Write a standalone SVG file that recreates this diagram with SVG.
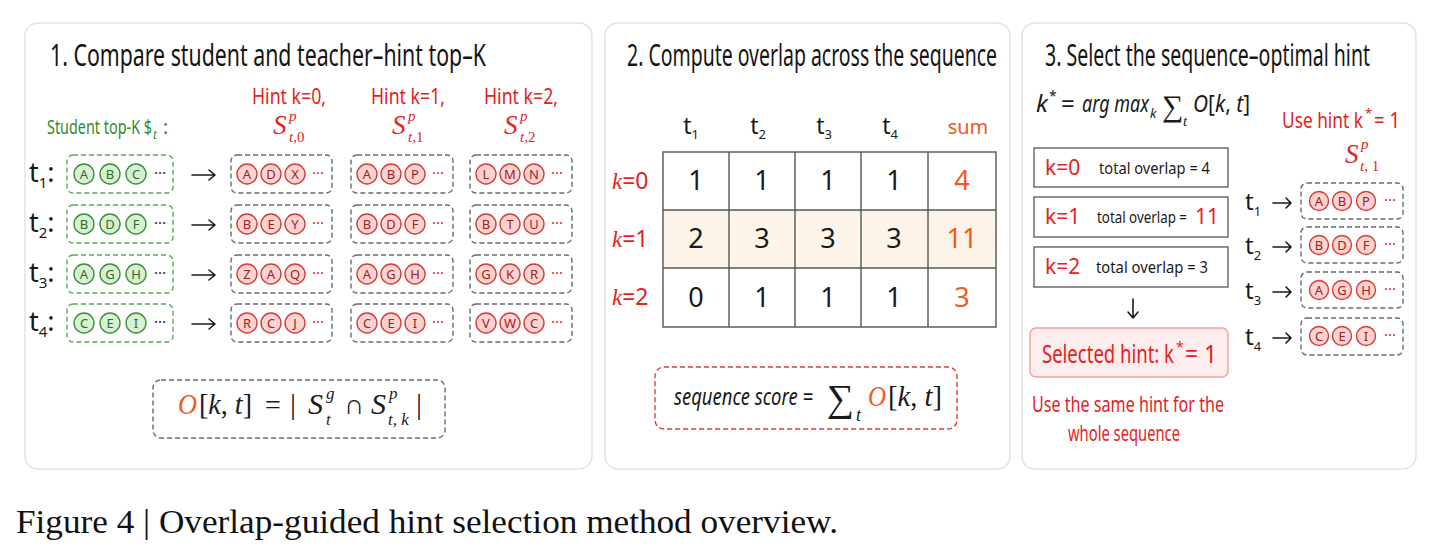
<svg xmlns="http://www.w3.org/2000/svg" width="1440" height="554" viewBox="0 0 1440 554">
  <defs>
    <style>
      .panel { fill:#ffffff; stroke:#e3e3e3; stroke-width:1.5; }
      .ttl { font-family:"Noto Sans","DejaVu Sans",sans-serif; font-size:30px; fill:#151515; }
      .hand { font-family:"Noto Sans","DejaVu Sans",sans-serif; }
      .red { fill:#e4221e; }
      .org { fill:#f05a22; }
      .grn { fill:#2f8a2f; }
      .blk { fill:#1a1a1a; }
      .math { font-family:"Liberation Serif","DejaVu Serif",serif; font-style:italic; }
      .up { font-family:"Liberation Serif","DejaVu Serif",serif; font-style:normal; }
      .gbox { fill:none; stroke:#5bab5b; stroke-width:1.4; stroke-dasharray:5 3; }
      .rbox { fill:none; stroke:#6a6a6a; stroke-width:1.4; stroke-dasharray:5 3; }
      .gc circle { fill:#d9f0d3; stroke:#3a8f3a; stroke-width:1.4; }
      .gc text { font-family:"Noto Sans","DejaVu Sans",sans-serif; font-size:13px; fill:#2d6e2d; text-anchor:middle; }
      .rc circle { fill:#fbd3d1; stroke:#d63b37; stroke-width:1.4; }
      .rc text { font-family:"Noto Sans","DejaVu Sans",sans-serif; font-size:13px; fill:#a32020; text-anchor:middle; }
      .dots { font-family:"Noto Sans","DejaVu Sans",sans-serif; font-size:15px; text-anchor:middle; }
      .grid { fill:none; stroke:#555; stroke-width:1.4; }
      .num { font-family:"Noto Sans","DejaVu Sans",sans-serif; font-size:27px; text-anchor:middle; }
      .sbox { fill:#ffffff; stroke:#555; stroke-width:1.3; }
      .arrow { fill:none; stroke:#1a1a1a; stroke-width:1.6; stroke-linecap:round; stroke-linejoin:round; }
    </style>
  </defs>

  <rect width="1440" height="554" fill="#ffffff"/>

  <!-- three panel frames -->
  <rect class="panel" x="25" y="23" width="567" height="446" rx="13"/>
  <rect class="panel" x="605" y="23" width="405" height="446" rx="13"/>
  <rect class="panel" x="1022" y="23" width="394" height="446" rx="13"/>

  <!-- ===== Panel 1 ===== -->
  <g id="panel1-title">
    <text class="ttl" x="50" y="66" textLength="436" lengthAdjust="spacingAndGlyphs">1. Compare student and teacher–hint top–K</text>
  </g>

  <g id="hint-headers">
    <text class="hand red" x="289" y="104" font-size="21" text-anchor="middle" textLength="74" lengthAdjust="spacingAndGlyphs">Hint k=0,</text>
    <text class="hand red" x="408" y="104" font-size="21" text-anchor="middle" textLength="74" lengthAdjust="spacingAndGlyphs">Hint k=1,</text>
    <text class="hand red" x="521" y="104" font-size="21" text-anchor="middle" textLength="74" lengthAdjust="spacingAndGlyphs">Hint k=2,</text>
    <!-- S^p_{t,k} labels -->
    <text class="math red" x="273" y="134" font-size="27">S</text>
    <text class="math red" x="289" y="121" font-size="15">p</text>
    <text class="math red" x="289" y="142" font-size="15">t<tspan class="up">,0</tspan></text>
    <text class="math red" x="392" y="134" font-size="27">S</text>
    <text class="math red" x="408" y="121" font-size="15">p</text>
    <text class="math red" x="408" y="142" font-size="15">t<tspan class="up">,1</tspan></text>
    <text class="math red" x="504" y="134" font-size="27">S</text>
    <text class="math red" x="520" y="121" font-size="15">p</text>
    <text class="math red" x="520" y="142" font-size="15">t<tspan class="up">,2</tspan></text>
  </g>

  <g id="student-header" class="hand grn">
    <text x="47" y="134" font-size="19" textLength="105" lengthAdjust="spacingAndGlyphs">Student top-K $</text>
    <text class="math" x="153" y="139" font-size="14">t</text>
    <text x="163" y="134" font-size="19">:</text>
  </g>

  <!-- row labels -->
  <g id="row-labels-p1" class="hand blk">
    <text x="29" y="182" font-size="27">t<tspan font-size="15" dy="6">1</tspan><tspan dy="-6">:</tspan></text>
    <text x="29" y="232" font-size="27">t<tspan font-size="15" dy="6">2</tspan><tspan dy="-6">:</tspan></text>
    <text x="29" y="282" font-size="27">t<tspan font-size="15" dy="6">3</tspan><tspan dy="-6">:</tspan></text>
    <text x="29" y="331" font-size="27">t<tspan font-size="15" dy="6">4</tspan><tspan dy="-6">:</tspan></text>
  </g>

  <!-- student top-K sets -->
  <g id="student-t1">
    <rect class="gbox" x="67" y="155" width="106" height="38" rx="6"/>
    <g class="gc"><circle cx="84" cy="174" r="10"/><text x="84" y="178.5">A</text><circle cx="110" cy="174" r="10"/><text x="110" y="178.5">B</text><circle cx="136" cy="174" r="10"/><text x="136" y="178.5">C</text></g>
    <text class="dots blk" x="160" y="178">···</text>
  </g>
  <g id="student-t2">
    <rect class="gbox" x="67" y="205" width="106" height="38" rx="6"/>
    <g class="gc"><circle cx="84" cy="224" r="10"/><text x="84" y="228.5">B</text><circle cx="110" cy="224" r="10"/><text x="110" y="228.5">D</text><circle cx="136" cy="224" r="10"/><text x="136" y="228.5">F</text></g>
    <text class="dots blk" x="160" y="228">···</text>
  </g>
  <g id="student-t3">
    <rect class="gbox" x="67" y="255" width="106" height="38" rx="6"/>
    <g class="gc"><circle cx="84" cy="274" r="10"/><text x="84" y="278.5">A</text><circle cx="110" cy="274" r="10"/><text x="110" y="278.5">G</text><circle cx="136" cy="274" r="10"/><text x="136" y="278.5">H</text></g>
    <text class="dots blk" x="160" y="278">···</text>
  </g>
  <g id="student-t4">
    <rect class="gbox" x="67" y="304" width="106" height="38" rx="6"/>
    <g class="gc"><circle cx="84" cy="323" r="10"/><text x="84" y="327.5">C</text><circle cx="110" cy="323" r="10"/><text x="110" y="327.5">E</text><circle cx="136" cy="323" r="10"/><text x="136" y="327.5">I</text></g>
    <text class="dots blk" x="160" y="327">···</text>
  </g>

  <!-- hint k=0 sets -->
  <g id="hint0-t1">
    <rect class="rbox" x="231" y="155" width="101" height="38" rx="6"/>
    <g class="rc"><circle cx="247" cy="174" r="10"/><text x="247" y="178.5">A</text><circle cx="271" cy="174" r="10"/><text x="271" y="178.5">D</text><circle cx="295" cy="174" r="10"/><text x="295" y="178.5">X</text></g>
    <text class="dots red" x="318" y="178">···</text>
  </g>
  <g id="hint0-t2">
    <rect class="rbox" x="231" y="205" width="101" height="38" rx="6"/>
    <g class="rc"><circle cx="247" cy="224" r="10"/><text x="247" y="228.5">B</text><circle cx="271" cy="224" r="10"/><text x="271" y="228.5">E</text><circle cx="295" cy="224" r="10"/><text x="295" y="228.5">Y</text></g>
    <text class="dots red" x="318" y="228">···</text>
  </g>
  <g id="hint0-t3">
    <rect class="rbox" x="231" y="255" width="101" height="38" rx="6"/>
    <g class="rc"><circle cx="247" cy="274" r="10"/><text x="247" y="278.5">Z</text><circle cx="271" cy="274" r="10"/><text x="271" y="278.5">A</text><circle cx="295" cy="274" r="10"/><text x="295" y="278.5">Q</text></g>
    <text class="dots red" x="318" y="278">···</text>
  </g>
  <g id="hint0-t4">
    <rect class="rbox" x="231" y="304" width="101" height="38" rx="6"/>
    <g class="rc"><circle cx="247" cy="323" r="10"/><text x="247" y="327.5">R</text><circle cx="271" cy="323" r="10"/><text x="271" y="327.5">C</text><circle cx="295" cy="323" r="10"/><text x="295" y="327.5">J</text></g>
    <text class="dots red" x="318" y="327">···</text>
  </g>

  <!-- hint k=1 sets -->
  <g id="hint1-t1">
    <rect class="rbox" x="351" y="155" width="102" height="38" rx="6"/>
    <g class="rc"><circle cx="367" cy="174" r="10"/><text x="367" y="178.5">A</text><circle cx="391" cy="174" r="10"/><text x="391" y="178.5">B</text><circle cx="415" cy="174" r="10"/><text x="415" y="178.5">P</text></g>
    <text class="dots red" x="438" y="178">···</text>
  </g>
  <g id="hint1-t2">
    <rect class="rbox" x="351" y="205" width="102" height="38" rx="6"/>
    <g class="rc"><circle cx="367" cy="224" r="10"/><text x="367" y="228.5">B</text><circle cx="391" cy="224" r="10"/><text x="391" y="228.5">D</text><circle cx="415" cy="224" r="10"/><text x="415" y="228.5">F</text></g>
    <text class="dots red" x="438" y="228">···</text>
  </g>
  <g id="hint1-t3">
    <rect class="rbox" x="351" y="255" width="102" height="38" rx="6"/>
    <g class="rc"><circle cx="367" cy="274" r="10"/><text x="367" y="278.5">A</text><circle cx="391" cy="274" r="10"/><text x="391" y="278.5">G</text><circle cx="415" cy="274" r="10"/><text x="415" y="278.5">H</text></g>
    <text class="dots red" x="438" y="278">···</text>
  </g>
  <g id="hint1-t4">
    <rect class="rbox" x="351" y="304" width="102" height="38" rx="6"/>
    <g class="rc"><circle cx="367" cy="323" r="10"/><text x="367" y="327.5">C</text><circle cx="391" cy="323" r="10"/><text x="391" y="327.5">E</text><circle cx="415" cy="323" r="10"/><text x="415" y="327.5">I</text></g>
    <text class="dots red" x="438" y="327">···</text>
  </g>

  <!-- hint k=2 sets -->
  <g id="hint2-t1">
    <rect class="rbox" x="470" y="155" width="102" height="38" rx="6"/>
    <g class="rc"><circle cx="486" cy="174" r="10"/><text x="486" y="178.5">L</text><circle cx="510" cy="174" r="10"/><text x="510" y="178.5">M</text><circle cx="534" cy="174" r="10"/><text x="534" y="178.5">N</text></g>
    <text class="dots red" x="557" y="178">···</text>
  </g>
  <g id="hint2-t2">
    <rect class="rbox" x="470" y="205" width="102" height="38" rx="6"/>
    <g class="rc"><circle cx="486" cy="224" r="10"/><text x="486" y="228.5">B</text><circle cx="510" cy="224" r="10"/><text x="510" y="228.5">T</text><circle cx="534" cy="224" r="10"/><text x="534" y="228.5">U</text></g>
    <text class="dots red" x="557" y="228">···</text>
  </g>
  <g id="hint2-t3">
    <rect class="rbox" x="470" y="255" width="102" height="38" rx="6"/>
    <g class="rc"><circle cx="486" cy="274" r="10"/><text x="486" y="278.5">G</text><circle cx="510" cy="274" r="10"/><text x="510" y="278.5">K</text><circle cx="534" cy="274" r="10"/><text x="534" y="278.5">R</text></g>
    <text class="dots red" x="557" y="278">···</text>
  </g>
  <g id="hint2-t4">
    <rect class="rbox" x="470" y="304" width="102" height="38" rx="6"/>
    <g class="rc"><circle cx="486" cy="323" r="10"/><text x="486" y="327.5">V</text><circle cx="510" cy="323" r="10"/><text x="510" y="327.5">W</text><circle cx="534" cy="323" r="10"/><text x="534" y="327.5">C</text></g>
    <text class="dots red" x="557" y="327">···</text>
  </g>

  <!-- overlap definition -->
  <g id="overlap-formula">
    <rect class="rbox" x="153" y="380" width="292" height="58" rx="8"/>
    <text class="math org" x="178" y="414" font-size="30" textLength="19" lengthAdjust="spacingAndGlyphs">O</text>
    <text class="up blk" x="199" y="414" font-size="30" textLength="53" lengthAdjust="spacingAndGlyphs">[<tspan class="math">k</tspan>, <tspan class="math">t</tspan>]</text>
    <text class="up blk" x="265" y="414" font-size="28">=</text>
    <text class="up blk" x="290" y="414" font-size="30">|</text>
    <text class="math blk" x="308" y="414" font-size="30">S</text>
    <text class="math blk" x="326" y="399" font-size="17">g</text>
    <text class="math blk" x="326" y="425" font-size="17">t</text>
    <text class="up blk" x="344" y="414" font-size="28">∩</text>
    <text class="math blk" x="371" y="414" font-size="30">S</text>
    <text class="math blk" x="389" y="399" font-size="17">p</text>
    <text class="math blk" x="388" y="425" font-size="17">t<tspan class="up">, </tspan>k</text>
    <text class="up blk" x="416" y="414" font-size="30">|</text>
  </g>

  <!-- ===== Panel 2 ===== -->
  <g id="panel2-title">
    <text class="ttl" x="627" y="66" textLength="370" lengthAdjust="spacingAndGlyphs">2. Compute overlap across the sequence</text>
  </g>

  <g id="overlap-table">
    <rect x="663" y="210" width="333" height="58" fill="#fcf4e8"/>
    <rect class="grid" x="663" y="152" width="333" height="175"/>
    <path class="grid" d="M729,152 V327 M795,152 V327 M861,152 V327 M928,152 V327 M663,210 H996 M663,268 H996"/>
    <g class="hand blk" font-size="23" text-anchor="middle">
      <text x="691" y="134">t<tspan font-size="13" dy="5">1</tspan></text>
      <text x="758" y="134">t<tspan font-size="13" dy="5">2</tspan></text>
      <text x="824" y="134">t<tspan font-size="13" dy="5">3</tspan></text>
      <text x="890" y="134">t<tspan font-size="13" dy="5">4</tspan></text>
    </g>
    <text class="hand org" x="968" y="134" font-size="20" text-anchor="middle">sum</text>
    <g class="hand red" font-size="23">
      <text x="612" y="189"><tspan class="math">k</tspan>=0</text>
      <text x="612" y="247"><tspan class="math">k</tspan>=1</text>
      <text x="612" y="305"><tspan class="math">k</tspan>=2</text>
    </g>
    <g class="num blk">
      <text x="696" y="190">1</text><text x="762" y="190">1</text><text x="828" y="190">1</text><text x="894" y="190">1</text>
      <text x="696" y="248">2</text><text x="762" y="248">3</text><text x="828" y="248">3</text><text x="894" y="248">3</text>
      <text x="696" y="307">0</text><text x="762" y="307">1</text><text x="828" y="307">1</text><text x="894" y="307">1</text>
    </g>
    <g class="num org">
      <text x="962" y="190">4</text>
      <text x="962" y="248">11</text>
      <text x="962" y="307">3</text>
    </g>
  </g>

  <g id="sequence-score">
    <rect x="655" y="367" width="302" height="62" rx="9" fill="none" stroke="#e8393a" stroke-width="1.4" stroke-dasharray="5 3"/>
    <text class="hand blk" x="674" y="405" font-size="23" font-style="italic" textLength="139" lengthAdjust="spacingAndGlyphs">sequence score =</text>
    <text class="up blk" x="827" y="411" font-size="38">∑</text>
    <text class="math blk" x="856" y="421" font-size="18">t</text>
    <text class="math org" x="868" y="406" font-size="30" textLength="18" lengthAdjust="spacingAndGlyphs">O</text>
    <text class="up blk" x="888" y="406" font-size="30" textLength="54" lengthAdjust="spacingAndGlyphs">[<tspan class="math">k</tspan>, <tspan class="math">t</tspan>]</text>
  </g>

  <!-- ===== Panel 3 ===== -->
  <g id="panel3-title">
    <text class="ttl" x="1045" y="66" textLength="325" lengthAdjust="spacingAndGlyphs">3. Select the sequence–optimal hint</text>
  </g>

  <g id="argmax-formula" class="hand blk">
    <text x="1036" y="112" font-size="24" font-style="italic">k</text>
    <text x="1049" y="101" font-size="14">*</text>
    <text x="1061" y="112" font-size="24">=</text>
    <text x="1082" y="112" font-size="24" font-style="italic" textLength="67" lengthAdjust="spacingAndGlyphs">arg max</text>
    <text x="1150" y="118" font-size="13" font-style="italic">k</text>
    <text class="up" x="1162" y="116" font-size="30">∑</text>
    <text class="math" x="1183" y="126" font-size="15">t</text>
    <text x="1193" y="112" font-size="24" textLength="57" lengthAdjust="spacingAndGlyphs"><tspan font-style="italic">O</tspan>[<tspan font-style="italic">k</tspan>, <tspan font-style="italic">t</tspan>]</text>
  </g>

  <g id="total-k0">
    <rect class="sbox" x="1034" y="148" width="194" height="39"/>
    <text class="hand red" x="1045" y="175" font-size="21">k=0</text>
    <text class="hand blk" x="1099" y="174" font-size="17" textLength="111" lengthAdjust="spacingAndGlyphs">total overlap = 4</text>
  </g>
  <g id="total-k1">
    <rect class="sbox" x="1034" y="197" width="194" height="40" fill="#fcf4e8"/>
    <text class="hand red" x="1045" y="224" font-size="21">k=1</text>
    <text class="hand blk" x="1097" y="223" font-size="17" textLength="90" lengthAdjust="spacingAndGlyphs">total overlap =</text>
    <text class="hand red" x="1195" y="224" font-size="21">11</text>
  </g>
  <g id="total-k2">
    <rect class="sbox" x="1034" y="247" width="194" height="40"/>
    <text class="hand red" x="1045" y="274" font-size="21">k=2</text>
    <text class="hand blk" x="1096" y="273" font-size="17" textLength="112" lengthAdjust="spacingAndGlyphs">total overlap = 3</text>
  </g>

  <g id="selected-hint" class="hand red">
    <rect x="1030" y="328" width="198" height="49" rx="6" fill="#fdeeed" stroke="#f0a19f" stroke-width="1.4"/>
    <text x="1042" y="363" font-size="25" textLength="132" lengthAdjust="spacingAndGlyphs">Selected hint: k</text>
    <text x="1176" y="352" font-size="14">*</text>
    <text x="1185" y="363" font-size="25" textLength="32" lengthAdjust="spacingAndGlyphs">= 1</text>
  </g>

  <g id="same-hint-note" class="hand red" font-size="21">
    <text x="1032" y="412" textLength="192" lengthAdjust="spacingAndGlyphs">Use the same hint for the</text>
    <text x="1068" y="441" textLength="112" lengthAdjust="spacingAndGlyphs">whole sequence</text>
  </g>

  <g id="use-hint-header" class="hand red">
    <text x="1282" y="128" font-size="22" textLength="81" lengthAdjust="spacingAndGlyphs">Use hint k</text>
    <text x="1365" y="118" font-size="13">*</text>
    <text x="1374" y="128" font-size="22" textLength="26" lengthAdjust="spacingAndGlyphs">= 1</text>
    <text class="math" x="1345" y="163" font-size="27">S</text>
    <text class="math" x="1361" y="149" font-size="15">p</text>
    <text class="math" x="1360" y="171" font-size="15">t<tspan class="up">, 1</tspan></text>
  </g>

  <g id="row-labels-p3" class="hand blk" font-size="24">
    <text x="1245" y="210">t<tspan font-size="13" dy="6">1</tspan></text>
    <text x="1245" y="254">t<tspan font-size="13" dy="6">2</tspan></text>
    <text x="1245" y="299">t<tspan font-size="13" dy="6">3</tspan></text>
    <text x="1245" y="345">t<tspan font-size="13" dy="6">4</tspan></text>
  </g>

  <g id="chosen-t1">
    <rect class="rbox" x="1301" y="183" width="102" height="36" rx="6"/>
    <g class="rc"><circle cx="1319" cy="201" r="9.5"/><text x="1319" y="205.5">A</text><circle cx="1342" cy="201" r="9.5"/><text x="1342" y="205.5">B</text><circle cx="1366" cy="201" r="9.5"/><text x="1366" y="205.5">P</text></g>
    <text class="dots red" x="1390" y="205">···</text>
  </g>
  <g id="chosen-t2">
    <rect class="rbox" x="1301" y="227" width="102" height="36" rx="6"/>
    <g class="rc"><circle cx="1319" cy="245" r="9.5"/><text x="1319" y="249.5">B</text><circle cx="1342" cy="245" r="9.5"/><text x="1342" y="249.5">D</text><circle cx="1366" cy="245" r="9.5"/><text x="1366" y="249.5">F</text></g>
    <text class="dots red" x="1390" y="249">···</text>
  </g>
  <g id="chosen-t3">
    <rect class="rbox" x="1301" y="272" width="102" height="36" rx="6"/>
    <g class="rc"><circle cx="1319" cy="290" r="9.5"/><text x="1319" y="294.5">A</text><circle cx="1342" cy="290" r="9.5"/><text x="1342" y="294.5">G</text><circle cx="1366" cy="290" r="9.5"/><text x="1366" y="294.5">H</text></g>
    <text class="dots red" x="1390" y="294">···</text>
  </g>
  <g id="chosen-t4">
    <rect class="rbox" x="1301" y="318" width="102" height="37" rx="6"/>
    <g class="rc"><circle cx="1319" cy="336" r="9.5"/><text x="1319" y="340.5">C</text><circle cx="1342" cy="336" r="9.5"/><text x="1342" y="340.5">E</text><circle cx="1366" cy="336" r="9.5"/><text x="1366" y="340.5">I</text></g>
    <text class="dots red" x="1390" y="340">···</text>
  </g>

  <!-- connectors -->
  <g id="connectors" class="arrow">
    <path d="M192,175 H215 M209,170 L215,175 L209,180"/>
    <path d="M192,225 H215 M209,220 L215,225 L209,230"/>
    <path d="M192,275 H215 M209,270 L215,275 L209,280"/>
    <path d="M192,324 H215 M209,319 L215,324 L209,329"/>
    <path d="M1133,299 V318 M1128,312 L1133,318 L1138,312"/>
    <path d="M1273,203 H1291 M1286,198 L1291,203 L1286,208"/>
    <path d="M1273,247 H1291 M1286,242 L1291,247 L1286,252"/>
    <path d="M1273,292 H1291 M1286,287 L1291,292 L1286,297"/>
    <path d="M1273,338 H1291 M1286,333 L1291,338 L1286,343"/>
  </g>

  <!-- caption -->
  <text x="16" y="533" font-family="Liberation Serif, DejaVu Serif, serif" font-size="34" fill="#111" textLength="822" lengthAdjust="spacingAndGlyphs">Figure 4 | Overlap-guided hint selection method overview.</text>
</svg>
